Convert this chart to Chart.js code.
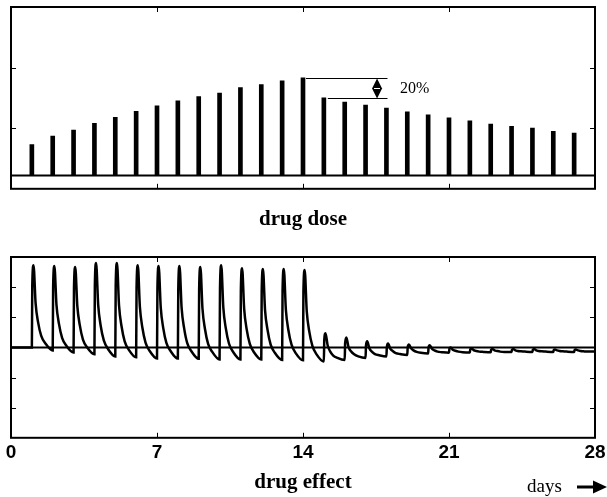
<!DOCTYPE html>
<html>
<head>
<meta charset="utf-8">
<script src="https://cdn.jsdelivr.net/npm/chart.js@4/dist/chart.umd.min.js"></script>
<style>
  html, body { margin: 0; padding: 0; background: #fff; }
  body { width: 607px; height: 497px; position: relative; overflow: hidden; }
  .panel { position: absolute; left: 0; }
  #doseWrap { top: 0; width: 607px; height: 240px; }
  #effectWrap { top: 245px; width: 607px; height: 252px; }
</style>
</head>
<body>
<div id="doseWrap" class="panel"><canvas id="doseChart"></canvas></div>
<div id="effectWrap" class="panel"><canvas id="effectChart"></canvas></div>
<script>
// days on which a dose is given, and the dose size (arbitrary units)
const doseDays = [1, 2, 3, 4, 5, 6, 7, 8, 9, 10, 11, 12, 13, 14,
                  15, 16, 17, 18, 19, 20, 21, 22, 23, 24, 25, 26, 27];
const doseValues = [0.73, 0.87, 0.97, 1.08, 1.18, 1.28, 1.37, 1.45, 1.52, 1.58, 1.67, 1.72, 1.78, 1.83,
                    1.50, 1.43, 1.38, 1.33, 1.27, 1.22, 1.17, 1.12, 1.07, 1.03, 1.00, 0.95, 0.92];
const doseBase = 0.22;

// drug effect curve, [day, level], one row per dosing cycle
const effectPoints = [
  [0, 0],
  [1, 0], [1.02, 2.05], [1.08, 2.73], [1.18, 1.46], [1.3, 0.83], [1.45, 0.38], [1.65, 0.13],
  [2, -0.1], [2.02, 2.0], [2.08, 2.7], [2.18, 1.41], [2.3, 0.78], [2.45, 0.32], [2.65, 0.06],
  [3, -0.17], [3.02, 1.96], [3.08, 2.67], [3.18, 1.37], [3.3, 0.73], [3.45, 0.26], [3.65, 0.0],
  [4, -0.23], [4.02, 2.04], [4.08, 2.8], [4.18, 1.41], [4.3, 0.72], [4.45, 0.23], [4.65, -0.05],
  [5, -0.3], [5.02, 2.03], [5.08, 2.8], [5.18, 1.39], [5.3, 0.7], [5.45, 0.2], [5.65, -0.08],
  [6, -0.33], [6.02, 1.97], [6.08, 2.73], [6.18, 1.34], [6.3, 0.65], [6.45, 0.16], [6.65, -0.12],
  [7, -0.37], [7.02, 1.93], [7.08, 2.7], [7.18, 1.32], [7.3, 0.64], [7.45, 0.15], [7.65, -0.12],
  [8, -0.37], [8.02, 1.93], [8.08, 2.7], [8.18, 1.31], [8.3, 0.64], [8.45, 0.14], [8.65, -0.13],
  [9, -0.38], [9.02, 1.91], [9.08, 2.67], [9.18, 1.29], [9.3, 0.61], [9.45, 0.12], [9.65, -0.15],
  [10, -0.4], [10.02, 1.95], [10.08, 2.73], [10.18, 1.32], [10.3, 0.63], [10.45, 0.13], [10.65, -0.15],
  [11, -0.4], [11.02, 1.87], [11.08, 2.63], [11.18, 1.27], [11.3, 0.6], [11.45, 0.12], [11.65, -0.16],
  [12, -0.4], [12.02, 1.85], [12.08, 2.6], [12.18, 1.24], [12.3, 0.58], [12.45, 0.09], [12.65, -0.18],
  [13, -0.42], [13.02, 1.85], [13.08, 2.6], [13.18, 1.24], [13.3, 0.57], [13.45, 0.09], [13.65, -0.19],
  [14, -0.43], [14.02, 1.82], [14.08, 2.57], [14.18, 1.2], [14.3, 0.53], [14.45, 0.05], [14.65, -0.23],
  [15, -0.47], [15.02, 0.25], [15.08, 0.47], [15.18, 0.07], [15.3, -0.13], [15.45, -0.27], [15.65, -0.35],
  [16, -0.42], [16.02, 0.14], [16.08, 0.33], [16.18, 0.02], [16.3, -0.13], [16.45, -0.23], [16.65, -0.3],
  [17, -0.35], [17.02, 0.06], [17.08, 0.2], [17.18, -0.03], [17.3, -0.14], [17.45, -0.22], [17.65, -0.26],
  [18, -0.3], [18.02, 0.02], [18.08, 0.13], [18.18, -0.04], [18.3, -0.12], [18.45, -0.19], [18.65, -0.22],
  [19, -0.25], [19.02, 0.01], [19.08, 0.1], [19.18, -0.03], [19.3, -0.1], [19.45, -0.15], [19.65, -0.18],
  [20, -0.2], [20.02, 0.0], [20.08, 0.07], [20.18, -0.04], [20.3, -0.1], [20.45, -0.14], [20.65, -0.16],
  [21, -0.18], [21.02, -0.05], [21.08, 0.0], [21.18, -0.08], [21.3, -0.11], [21.45, -0.14], [21.65, -0.16],
  [22, -0.17], [22.02, -0.07], [22.08, -0.03], [22.18, -0.09], [22.3, -0.12], [22.45, -0.14], [22.65, -0.15],
  [23, -0.16], [23.02, -0.08], [23.08, -0.05], [23.18, -0.1], [23.3, -0.12], [23.45, -0.14], [23.65, -0.15],
  [24, -0.15], [24.02, -0.08], [24.08, -0.05], [24.18, -0.1], [24.3, -0.12], [24.45, -0.13], [24.65, -0.14],
  [25, -0.15], [25.02, -0.08], [25.08, -0.05], [25.18, -0.1], [25.3, -0.12], [25.45, -0.13], [25.65, -0.14],
  [26, -0.15], [26.02, -0.09], [26.08, -0.07], [26.18, -0.1], [26.3, -0.12], [26.45, -0.13], [26.65, -0.14],
  [27, -0.15], [27.02, -0.09], [27.08, -0.07], [27.18, -0.1], [27.3, -0.12], [27.45, -0.13], [27.65, -0.14],
  [28, -0.14]
];

// tick positions
const dayTicks = [0, 7, 14, 21, 28];
const innerDayTicks = [7, 14, 21];
const doseTicks = [1, 2];
const effectTicks = [-2, -1, 1, 2];

const SERIF = '"Liberation Serif", "Times New Roman", serif';
const SANS = '"Liberation Sans", Arial, sans-serif';

// frame, inward tick marks and the zero line of each panel
const framePlugin = {
  id: 'frame',
  beforeDatasetsDraw(chart, args, opts) {
    const { ctx, chartArea: a, scales: { y } } = chart;
    const zy = y.getPixelForValue(opts.zero);
    ctx.save();
    ctx.strokeStyle = '#000';
    ctx.lineWidth = 2;
    ctx.beginPath();
    ctx.moveTo(a.left, zy);
    ctx.lineTo(a.right, zy);
    ctx.stroke();
    ctx.restore();
  },
  afterDatasetsDraw(chart, args, opts) {
    const { ctx, chartArea: a, scales: { x, y } } = chart;
    ctx.save();
    ctx.strokeStyle = '#000';
    ctx.lineWidth = 1;
    ctx.beginPath();
    opts.xTicks.forEach(v => {
      const px = Math.round(x.getPixelForValue(v)) + 0.5;
      ctx.moveTo(px, a.top); ctx.lineTo(px, a.top + 5);
      ctx.moveTo(px, a.bottom); ctx.lineTo(px, a.bottom - 5);
    });
    opts.yTicks.forEach(v => {
      const py = Math.round(y.getPixelForValue(v)) + 0.5;
      ctx.moveTo(a.left, py); ctx.lineTo(a.left + 5, py);
      ctx.moveTo(a.right, py); ctx.lineTo(a.right - 5, py);
    });
    ctx.stroke();
    ctx.lineWidth = 2;
    ctx.strokeRect(a.left, a.top, a.right - a.left, a.bottom - a.top);
    ctx.restore();
  }
};

// the "20%" step marker between the last high dose and the first reduced one
const stepPlugin = {
  id: 'step',
  afterDatasetsDraw(chart) {
    const { ctx, scales: { x, y } } = chart;
    const hi = Math.round(y.getPixelForValue(doseValues[13])) + 0.5;
    const lo = Math.round(y.getPixelForValue(doseValues[14])) + 0.5;
    const xHi = x.getPixelForValue(doseDays[13]) + 3;
    const xLo = x.getPixelForValue(doseDays[14]) + 4;
    const xEnd = x.getPixelForValue(18.05);
    const ax = x.getPixelForValue(17.55);
    const mid = (hi + lo) / 2;
    ctx.save();
    ctx.strokeStyle = '#000';
    ctx.lineWidth = 1;
    ctx.beginPath();
    ctx.moveTo(xHi, hi); ctx.lineTo(xEnd, hi);
    ctx.moveTo(xLo, lo); ctx.lineTo(xEnd, lo);
    ctx.stroke();
    ctx.fillStyle = '#000';
    ctx.beginPath();
    ctx.moveTo(ax, hi);
    ctx.lineTo(ax + 5, mid);
    ctx.lineTo(ax, lo);
    ctx.lineTo(ax - 5, mid);
    ctx.closePath();
    ctx.fill();
    ctx.strokeStyle = '#fff';
    ctx.beginPath();
    ctx.moveTo(ax - 3, mid); ctx.lineTo(ax + 3, mid);
    ctx.stroke();
    ctx.font = '16px ' + SERIF;
    ctx.textBaseline = 'middle';
    ctx.fillText('20%', x.getPixelForValue(18.65), mid);
    ctx.restore();
  }
};

// "days ->" caption at the bottom right
const daysPlugin = {
  id: 'days',
  afterDraw(chart) {
    const { ctx } = chart;
    ctx.save();
    ctx.fillStyle = '#000';
    ctx.font = '19px ' + SERIF;
    ctx.textBaseline = 'alphabetic';
    ctx.fillText('days', 527, 247);
    ctx.fillRect(577, 240.5, 18, 3);
    ctx.beginPath();
    ctx.moveTo(593, 235.5);
    ctx.lineTo(607, 242);
    ctx.lineTo(593, 248.5);
    ctx.closePath();
    ctx.fill();
    ctx.restore();
  }
};

const dayScale = (showLabels) => ({
  type: 'linear',
  min: 0,
  max: 28,
  offset: false,
  display: showLabels,
  afterBuildTicks: axis => { axis.ticks = dayTicks.map(v => ({ value: v })); },
  // fixed axis band, so the edge labels do not squeeze the plot area
  afterFit: axis => {
    axis.height = showLabels ? 30 : 0;
    axis.paddingLeft = 0;
    axis.paddingRight = 0;
  },
  grid: { display: false, drawTicks: false },
  border: { display: false },
  ticks: {
    padding: 4,
    color: '#000',
    font: { family: SANS, size: 19, weight: 'bold' },
    maxRotation: 0,
    autoSkip: false
  }
});

new Chart(document.getElementById('doseChart'), {
  type: 'bar',
  data: {
    datasets: [{
      data: doseDays.map((d, i) => ({ x: d, y: doseValues[i] })),
      base: doseBase,
      backgroundColor: '#000',
      borderWidth: 0,
      barThickness: 4
    }]
  },
  options: {
    responsive: true,
    maintainAspectRatio: false,
    animation: false,
    layout: { padding: { left: 11, right: 12, top: 7, bottom: 0 } },
    scales: {
      x: dayScale(false),
      y: { display: false, min: 0, max: 3 }
    },
    plugins: {
      legend: { display: false },
      tooltip: { enabled: false },
      title: {
        display: true,
        position: 'bottom',
        text: 'drug dose',
        color: '#000',
        font: { family: SERIF, size: 21, weight: 'bold' },
        padding: { top: 18, bottom: 8 }
      },
      frame: { xTicks: innerDayTicks, yTicks: doseTicks, zero: doseBase }
    }
  },
  plugins: [framePlugin, stepPlugin]
});

new Chart(document.getElementById('effectChart'), {
  type: 'line',
  data: {
    datasets: [{
      data: effectPoints.map(p => ({ x: p[0], y: p[1] })),
      borderColor: '#000',
      borderWidth: 2.5,
      pointRadius: 0,
      cubicInterpolationMode: 'monotone',
      fill: false
    }]
  },
  options: {
    responsive: true,
    maintainAspectRatio: false,
    animation: false,
    layout: { padding: { left: 11, right: 12, top: 12, bottom: 0 } },
    scales: {
      x: dayScale(true),
      y: { display: false, min: -3, max: 3 }
    },
    plugins: {
      legend: { display: false },
      tooltip: { enabled: false },
      title: {
        display: true,
        position: 'bottom',
        text: 'drug effect',
        color: '#000',
        font: { family: SERIF, size: 21, weight: 'bold' },
        padding: { top: 2, bottom: 2 }
      },
      frame: { xTicks: innerDayTicks, yTicks: effectTicks, zero: 0 }
    }
  },
  plugins: [framePlugin, daysPlugin]
});
</script>
</body>
</html>
